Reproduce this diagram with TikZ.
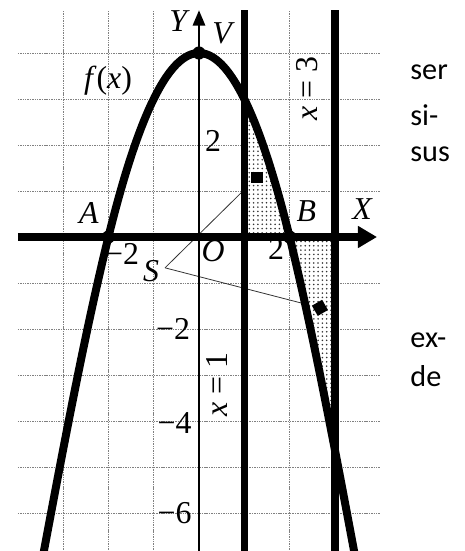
\documentclass[tikz,border=0pt]{standalone}
\usepackage{fontspec}
\newfontfamily\carlito{Carlito}
\newfontfamily\lserif{Liberation Serif}
\usetikzlibrary{arrows.meta,patterns.meta}
\begin{document}
\begin{tikzpicture}[x=1cm,y=1.0155cm,
  declare function={fpar(\t)=4-\t*\t+0.015*(max(\t*\t-4,0))^2;},
  gridline/.style={dash pattern=on 0.9pt off 0.6pt, black!50, line width=0.55pt},
  thickline/.style={line width=4.6pt},
  curveline/.style={line width=5pt},
  thinline/.style={line width=0.5pt, black!80},
  lab/.style={inner sep=0pt, font=\lserif\fontsize{20}{23}\selectfont},
  side/.style={inner sep=0pt, anchor=base west, font=\carlito\fontsize{19}{23}\selectfont},
  pt/.style={circle, fill, inner sep=0pt, minimum size=0.29cm},
  dotfill/.style={pattern={Dots[distance=2.7pt,radius=0.55pt]}, pattern color=black!80}]
\useasboundingbox (-4.393,-6.826) rectangle (5.872,5.152);
% grid
\foreach \x in {-3,-2,-1,2} \draw[gridline] (\x,-6.9) -- (\x,4.93);
\foreach \y in {4,3,2,1,-1,-2,-3,-4,-5,-6} \draw[gridline] (-4,\y) -- (4,\y);
% construction lines from S
\coordinate (S) at (-0.75,-0.67);
\coordinate (m1c) at (1.28,1.30);
\coordinate (m2c) at (2.67,-1.54);
\draw[thinline] (S) -- (m1c);
\draw[thinline] (S) -- (m2c);
% shaded regions
\fill[white] (1,0) -- (1,3) -- plot[domain=1:2,samples=25] (\x,{fpar(\x)}) -- cycle;
\fill[dotfill] (1,0) -- (1,3) -- plot[domain=1:2,samples=25] (\x,{fpar(\x)}) -- cycle;
\fill[white] (2,0) -- plot[domain=2:3,samples=25] (\x,{fpar(\x)}) -- (3,0) -- cycle;
\fill[dotfill] (2,0) -- plot[domain=2:3,samples=25] (\x,{fpar(\x)}) -- (3,0) -- cycle;
% markers
\node[fill, minimum size=0.25cm, inner sep=0pt] (m1) at (m1c) {};
\node[fill, minimum size=0.26cm, inner sep=0pt, rotate=30] (m2) at (m2c) {};
% axes
\draw[line width=1.5pt, -{Triangle[length=0.34cm,width=0.27cm]}] (0,-6.9) -- (0,4.93);
\draw[thickline, -{Triangle[length=0.42cm,width=0.46cm]}] (-4,0) -- (3.93,0);
% vertical lines x=1, x=3
\draw[thickline] (1,-6.9) -- (1,4.93);
\draw[thickline] (3,-6.9) -- (3,4.93);
% parabola
\draw[curveline] plot[domain=-3.44:3.44, samples=100, smooth] (\x,{fpar(\x)});
% points
\node[pt] (V) at (0,4) {};
\node[pt] (A) at (-2,0) {};
\node[pt] (B) at (2,0) {};
% labels
\node[lab] (Ylab) at (-0.46,4.69) {\itshape Y};
\node[lab] (Vlab) at (0.51,4.43) {\itshape V};
\node[lab] (flab) at (-2.01,3.39) {\itshape f\/\upshape(\itshape x\upshape)};
\node[lab] (Alab) at (-2.43,0.52) {\itshape A};
\node[lab] (Blab) at (2.37,0.57) {\itshape B};
\node[lab] (Xlab) at (3.6,0.61) {\itshape X};
\node[lab] (Olab) at (0.31,-0.3) {\itshape O};
\node[lab] (Slab) at (-1.06,-0.75) {\itshape S};
\node[lab] (xt2) at (1.7,-0.26) {2};
\node[lab] (xtm2) at (-1.7,-0.36) {−2};
\node[lab] (yt2) at (0.31,2.08) {2};
\node[lab] (ytm2) at (-0.57,-2.0) {−2};
\node[lab] (ytm4) at (-0.54,-4.04) {−4};
\node[lab] (ytm6) at (-0.54,-6.0) {−6};
\node[lab, rotate=90] (x1lab) at (0.39,-3.2) {\itshape x \upshape= 1};
\node[lab, rotate=90] (x3lab) at (2.39,3.22) {\itshape x \upshape= 3};
% side text
\node[side] (t1) at (4.66,3.43) {ser};
\node[side] (t2) at (4.66,2.43) {si-};
\node[side] (t3) at (4.66,1.65) {sus};
\node[side] (t4) at (4.66,-2.41) {ex-};
\node[side] (t5) at (4.66,-3.26) {de};
\end{tikzpicture}
\end{document}
